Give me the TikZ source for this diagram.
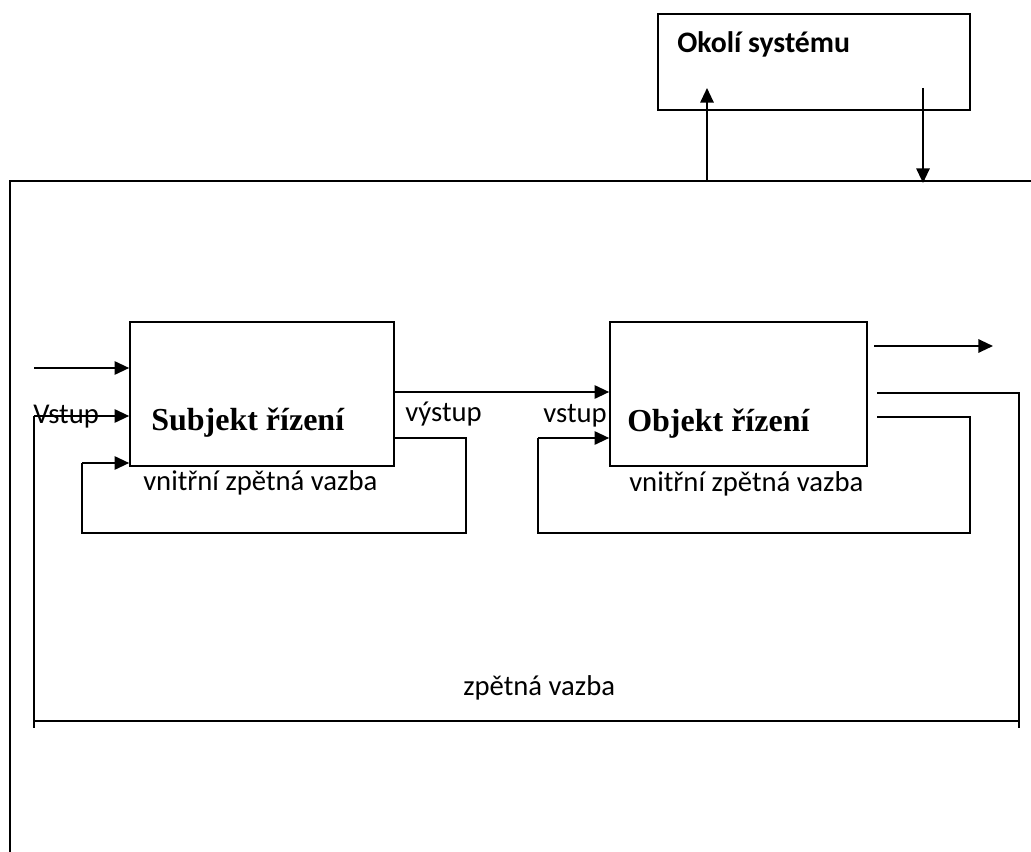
\documentclass[tikz,border=0pt]{standalone}
\usepackage{fontspec}
\setmainfont{Liberation Serif}
\newfontfamily\calib{Carlito}
\usetikzlibrary{arrows.meta}
\tikzset{
  ln/.style={line width=1.5pt},
  arr/.style={line width=1.5pt,-{Triangle[length=11pt,width=10pt]}},
  box/.style={draw,line width=1.2pt,rectangle,inner sep=0pt},
  lbl/.style={inner sep=0pt,anchor=base west,font=\calib\fontsize{21.5}{25}\selectfont},
  title/.style={inner sep=0pt,anchor=base west,font=\bfseries\fontsize{24}{28}\selectfont},
}
\begin{document}
\begin{tikzpicture}[x=0.75pt,y=-0.75pt]
\useasboundingbox (0,0) rectangle (1031,852);
% environment box
\node[box,minimum width=234pt,minimum height=72pt] (okoli) at (814,62) {};
\node[lbl,font=\calib\bfseries\fontsize{22.3}{26}\selectfont] (okolit) at (677,53) {Okolí systému};
% system boundary
\coordinate (sysTL) at (10,181);
\coordinate (sysTR) at (1031,181);
\coordinate (sysBL) at (10,852);
\draw[ln] (sysTR) -- (sysTL) -- (sysBL);
% arrows to/from environment
\coordinate (up0) at (707,181);
\coordinate (up1) at (707,88);
\coordinate (dn0) at (923,88);
\coordinate (dn1) at (923,183);
\draw[arr] (up0) -- (up1);
\draw[arr] (dn0) -- (dn1);
% main boxes
\node[box,minimum width=198pt,minimum height=108pt] (subj) at (262,394) {};
\node[box,minimum width=192.75pt,minimum height=108pt] (obj) at (738.5,394) {};
\node[title] (subjt) at (151,430) {Subjekt řízení};
\node[title] (objt) at (627,431) {Objekt řízení};
% inputs to Subjekt
\coordinate (in1) at (34,368);
\draw[arr] (in1) -- (in1 -| subj.west);
\coordinate (in2) at (34,416);
\draw[arr] (in2) -- (in2 -| subj.west);
% Subjekt inner feedback
\coordinate (sf0) at (394,438);
\coordinate (sf1) at (466,533);
\coordinate (sf2) at (82,463);
\draw[ln] (sf0 -| subj.east) -- (sf1 |- sf0) -- (sf1) -- (sf2 |- sf1) -- (sf2);
\draw[arr] (sf2) -- (sf2 -| subj.west);
% Subjekt -> Objekt
\coordinate (so) at (394,392);
\draw[arr] (so -| subj.east) -- (so -| obj.west);
% Objekt inner feedback
\coordinate (of0) at (877,417);
\coordinate (of1) at (970,533);
\coordinate (of2) at (538,438);
\draw[ln] (of0) -- (of1 |- of0) -- (of1) -- (of2 |- of1) -- (of2);
\draw[arr] (of2) -- (of2 -| obj.west);
% output
\coordinate (out0) at (874,346);
\coordinate (out1) at (993,346);
\draw[arr] (out0) -- (out1);
% outer feedback
\coordinate (fb0) at (877,393);
\coordinate (fbR) at (1019,728);
\coordinate (fbL) at (34,728);
\coordinate (fbH) at (34,721);
\draw[ln] (fb0) -- (fbR |- fb0) -- (fbR);
\draw[ln] (fbH) -- (fbH -| fbR);
\draw[ln] (in2) -- (fbL);
% labels
\node[lbl] (vstup1) at (33,423) {Vstup};
\node[lbl] (vystup) at (405,421) {výstup};
\node[lbl] (vstup2) at (543,422) {vstup};
\node[lbl] (vzv1) at (143,490) {vnitřní zpětná vazba};
\node[lbl] (vzv2) at (629,491) {vnitřní zpětná vazba};
\node[lbl] (zv) at (463,695) {zpětná vazba};
\end{tikzpicture}
\end{document}
